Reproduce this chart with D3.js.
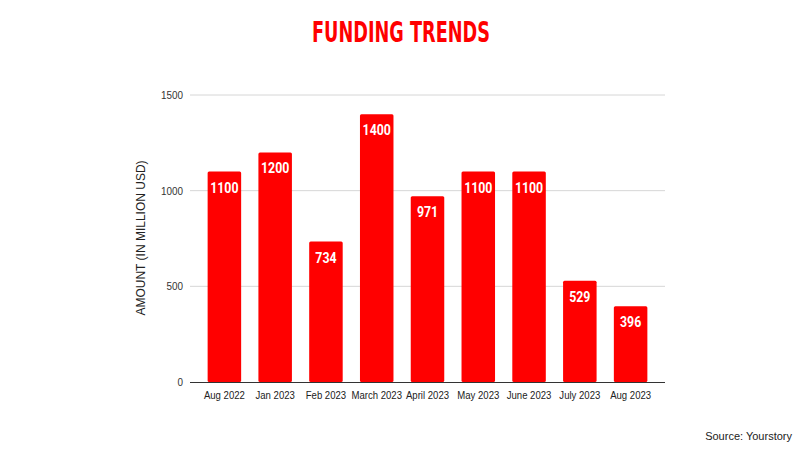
<!DOCTYPE html>
<html>
<head>
<meta charset="utf-8">
<script src="https://cdn.jsdelivr.net/npm/d3@7"></script>
<style>
    body { margin: 0; background: #fff; }
    text { font-family: Arial, "Liberation Sans", sans-serif; }
</style>
</head>
<body>
<div id="chart"></div>
<script>
const months = ["Aug 2022", "Jan 2023", "Feb 2023", "March 2023", "April 2023", "May 2023", "June 2023", "July 2023", "Aug 2023"]
const amounts = [1100, 1200, 734, 1400, 971, 1100, 1100, 529, 396]
const yTicks = [0, 500, 1000, 1500]

const width = 800, height = 450

const svg = d3.select("#chart").append("svg")
    .attr("width", width)
    .attr("height", height)

// squeeze text a bit, the source chart uses a narrower face
const squeeze = (sel, k) => sel.each(function() {
    const w = this.getComputedTextLength()
    d3.select(this).attr("textLength", w * k).attr("lengthAdjust", "spacingAndGlyphs")
})

// title
svg.append("text")
    .attr("x", 401)
    .attr("y", 42)
    .attr("text-anchor", "middle")
    .attr("fill", "#ff0000")
    .attr("font-weight", "bold")
    .attr("font-size", 28)
    .attr("textLength", 178)
    .attr("lengthAdjust", "spacingAndGlyphs")
    .style("font-family", "'Liberation Sans Narrow', 'DejaVu Sans Condensed', sans-serif")
    .text("FUNDING TRENDS")

const x = d3.scaleBand()
    .domain(months)
    .range([199, 656])
    .paddingInner(0.34)
    .paddingOuter(0.17)

const y = d3.scaleLinear()
    .domain([0, 1500])
    .range([382, 95])

// grid lines
svg.append("g")
    .selectAll("line")
    .data(yTicks.filter(d => d > 0))
    .join("line")
    .attr("x1", 190)
    .attr("x2", 665)
    .attr("y1", d => y(d))
    .attr("y2", d => y(d))
    .attr("stroke", "#d6d6d6")
    .attr("stroke-width", 1)

// y axis labels
const yAxis = d3.axisLeft(y).tickValues(yTicks).tickFormat(d3.format("d")).tickSize(0).tickPadding(7)
svg.append("g")
    .attr("transform", "translate(190,0)")
    .call(yAxis)
    .call(g => g.select(".domain").remove())
    .call(g => g.selectAll("text").attr("fill", "#333").attr("font-size", 11).call(squeeze, 0.9))

// bars
svg.append("g")
    .selectAll("rect")
    .data(amounts)
    .join("rect")
    .attr("x", (d, i) => x(months[i]))
    .attr("y", d => y(d))
    .attr("width", x.bandwidth())
    .attr("height", d => y(0) - y(d))
    .attr("rx", 1.5)
    .attr("fill", "#ff0000")

// value labels
svg.append("g")
    .selectAll("text")
    .data(amounts)
    .join("text")
    .attr("x", (d, i) => x(months[i]) + x.bandwidth() / 2)
    .attr("y", d => y(d) + 21)
    .attr("text-anchor", "middle")
    .attr("fill", "#fff")
    .attr("font-weight", "bold")
    .attr("font-size", 14)
    .style("font-family", "Roboto, Arial, sans-serif")
    .text(d => d)
    .call(squeeze, 0.88)

// x axis
const xAxis = d3.axisBottom(x).tickSize(0).tickPadding(9)
svg.append("g")
    .attr("transform", "translate(0,382)")
    .call(xAxis)
    .call(g => g.select(".domain").attr("d", "M190,0.5H665").attr("stroke", "#333"))
    .call(g => g.selectAll("text").attr("fill", "#222").attr("font-size", 11).call(squeeze, 0.87))

// y axis title
svg.append("text")
    .attr("transform", "translate(145,238) rotate(-90)")
    .attr("text-anchor", "middle")
    .attr("fill", "#222")
    .attr("font-size", 12)
    .text("AMOUNT (IN MILLION USD)")

// source
svg.append("text")
    .attr("x", 792)
    .attr("y", 440)
    .attr("text-anchor", "end")
    .attr("fill", "#222")
    .attr("font-size", 11)
    .text("Source: Yourstory")
</script>
</body>
</html>
